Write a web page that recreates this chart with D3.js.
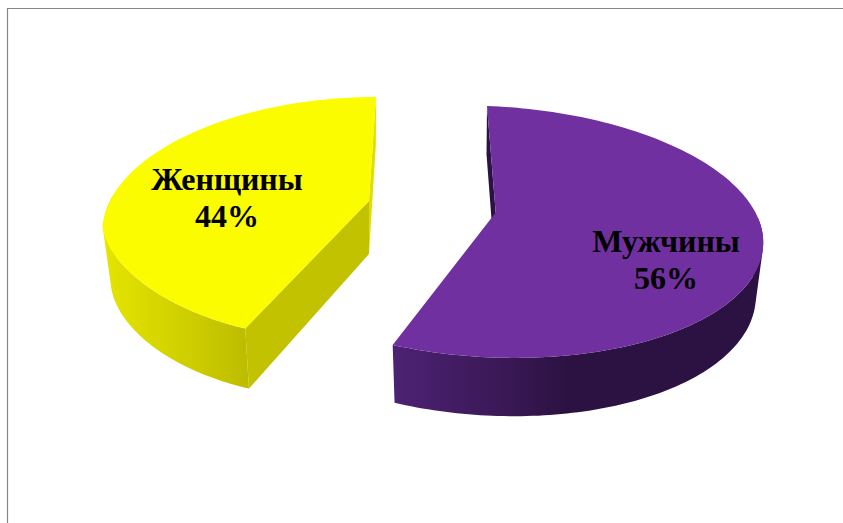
<!DOCTYPE html>
<html>
<head>
<meta charset="utf-8">
<script src="https://cdn.jsdelivr.net/npm/d3@7"></script>
<style>
    html, body { margin: 0; padding: 0; background: #fff; }
    svg { display: block; }
</style>
</head>
<body>
<div id="chart"></div>
<script>
const categories = ["Мужчины", "Женщины"];
const shares = [56, 44];

const width = 843;
const height = 523;

// one projected disc per slice, each exploded slice has its own perspective
const views = [
    {
        top: "#7030a0", cx: 490.2, cy: 231, a: 273, b: -3.2, c: 10, rFar: 125, rNear: 126.5,
        topPow: 1, basePow: 1,
        apex: [495.7, 212.5], baseApex: [495, 265], scaleX: 0.975, scaleY: 1.04,
        wallStops: [[0, "#4c2273"], [0.45, "#3a1856"], [0.7, "#2c1242"], [1, "#2c1242"]],
        backWall: "#2c1242", flatWall: null,
        label: [666, 252]
    },
    {
        top: "#fcfc00", cx: 356.5, cy: 221, a: 253, b: 19.5, c: 0, rFar: 124, rNear: 118,
        topPow: 1.27, basePow: 1.15,
        apex: [369, 201], baseApex: [369, 254], scaleX: 0.97, scaleY: 1.047,
        wallStops: [[0, "#e4e400"], [0.55, "#cfcf00"], [1, "#bcbc00"]],
        backWall: "#dede00", flatWall: "#c2c200",
        label: [227, 190]
    }
];
const wallRange = [[393, 640], [106, 250]];

const svg = d3.select("#chart").append("svg")
    .attr("width", width)
    .attr("height", height);

svg.append("rect").attr("width", width).attr("height", height).attr("fill", "#fff");

// chart area border, only top and left are in frame
svg.append("path")
    .attr("d", d3.line()([[7.5, height], [7.5, 8.5], [width, 8.5]]))
    .attr("fill", "none")
    .attr("stroke", "#868686")
    .attr("stroke-width", 1.2);

const defs = svg.append("defs");
const line = d3.line();

const slices = d3.pie().sort(null).startAngle(0).endAngle(2 * Math.PI)(shares);

function rimPoint(v, t, pow) {
    const s = Math.sin(t), k = Math.cos(t);
    const near = k > 0 ? v.rFar * k : -v.rNear * Math.pow(-k, pow);
    return [
        v.cx + v.a * s + v.b * k,
        v.cy + v.c * s - near
    ];
}

// lower edge of the wall is the top face scaled around the apex and pushed down
function toBase(v, p) {
    return [
        v.baseApex[0] + v.scaleX * (p[0] - v.apex[0]),
        v.baseApex[1] + v.scaleY * (p[1] - v.apex[1])
    ];
}

slices.forEach((d, i) => {
    const v = views[i];
    const angles = d3.range(0, 161).map(j => d.startAngle + (d.endAngle - d.startAngle) * j / 160);
    const rim = angles.map(t => rimPoint(v, t, v.topPow));
    const base = angles.map(t => toBase(v, rimPoint(v, t, v.basePow)));
    const g = svg.append("g").attr("class", "slice");

    const grad = defs.append("linearGradient")
        .attr("id", `wall-${i}`)
        .attr("gradientUnits", "userSpaceOnUse")
        .attr("x1", wallRange[i][0]).attr("x2", wallRange[i][1])
        .attr("y1", 0).attr("y2", 0);
    grad.selectAll("stop")
        .data(v.wallStops)
        .join("stop")
        .attr("offset", s => s[0])
        .attr("stop-color", s => s[1]);

    // straight wall behind the rim start
    const first = rim[0], last = rim[rim.length - 1];
    const backEnd = i === 0 ? first : last;
    const backBase = i === 0 ? base[0] : base[base.length - 1];
    g.append("path")
        .attr("d", line([backEnd, backBase, v.baseApex, v.apex]) + "Z")
        .attr("fill", v.backWall);

    // straight wall at the other cut
    if (v.flatWall) {
        g.append("path")
            .attr("d", line([first, base[0], v.baseApex, v.apex]) + "Z")
            .attr("fill", v.flatWall);
    }

    // curved outer wall: strips in one path, same winding so nothing cancels out
    const strips = d3.range(0, angles.length - 1)
        .filter(j => Math.cos(angles[j]) < 0.2)
        .map(j => {
            const quad = [rim[j], rim[j + 1], base[j + 1], base[j]];
            return line(d3.polygonArea(quad) < 0 ? quad.reverse() : quad) + "Z";
        });
    g.append("path")
        .attr("d", strips.join(""))
        .attr("fill", `url(#wall-${i})`);

    // top face
    g.append("path")
        .attr("d", line([v.apex].concat(rim)) + "Z")
        .attr("fill", v.top);
});

// labels go last so they sit over the faces
const labels = svg.append("g")
    .attr("font-family", "'Liberation Serif', serif")
    .attr("font-weight", "bold")
    .attr("font-size", 32)
    .attr("fill", "#000")
    .attr("text-anchor", "middle");

slices.forEach((d, i) => {
    const [x, y] = views[i].label;
    labels.append("text").attr("x", x).attr("y", y).text(categories[i]);
    labels.append("text").attr("x", x).attr("y", y + 37).text(`${d.data}%`);
});
</script>
</body>
</html>
